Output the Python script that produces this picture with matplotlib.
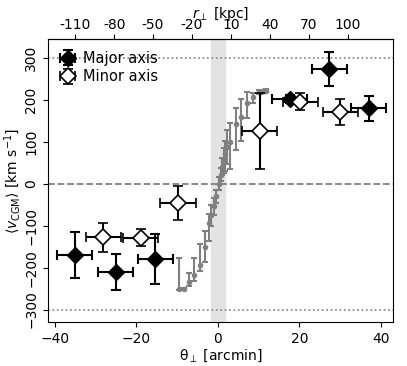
import matplotlib
matplotlib.use("Agg")
import matplotlib.pyplot as plt
import numpy as np

plt.rcParams.update({"font.family": "DejaVu Sans", "font.size": 10})

# major axis sightlines
maj_theta = [-35.2, -25.1, -15.4, 17.6, 27.3, 37.0]
maj_v     = [-171, -211, -179, 202, 274, 180]
maj_verr  = [55, 43, 59, 10, 40, 30]
# minor axis sightlines
min_theta = [-28.2, -18.9, -9.8, 10.2, 20.2, 30.0]
min_v     = [-128, -129, -46, 126, 196, 172]
min_verr  = [34, 20, 40, 91, 21, 31]
theta_err = 4.3

# disc rotation curve (gray)
rc_theta = [-9.5, -8.4, -7.0, -5.8, -4.5, -3.1, -2.1, -1.6, -1.0, -0.5, 0.3,
            0.8, 1.1, 1.5, 1.8, 2.3, 3.0, 4.4, 5.6, 7.1, 8.5, 10.0, 10.6,
            11.2, 11.8]
rc_v      = [-251, -251, -234, -217, -195, -150, -94, -75, -54, -30, 0,
             22, 39, 55, 71, 88, 100, 142, 160, 192, 207, 218, 220, 221, 222]
rc_lo     = [3, 3, 10, 15, 14, 36, 42, 25, 20, 15, 15, 15, 18, 30, 40, 40,
             64, 62, 57, 36, 15, 5, 3, 3, 3]
rc_hi     = [74, 3, 21, 41, 52, 37, 22, 25, 20, 15, 15, 15, 22, 30, 30, 40,
             46, 38, 42, 28, 9, 5, 3, 3, 3]

KPC_PER_ARCMIN = 3.14
r_ticks = list(range(-110, 101, 30))

fig, ax = plt.subplots(figsize=(4.07, 3.66), dpi=100)
fig.subplots_adjust(left=0.118, right=0.966, top=0.893, bottom=0.120)

ax.axvspan(-1.7, 1.8, color="#e3e3e3", zorder=0)
ax.axhline(0, color="gray", ls="--", lw=1.3, zorder=1)
ax.axhline(300, color="gray", ls=":", lw=1.2, zorder=1)
ax.axhline(-300, color="gray", ls=":", lw=1.2, zorder=1)

ax.errorbar(rc_theta, rc_v, yerr=[rc_lo, rc_hi], fmt="o", color="gray",
            ms=3, elinewidth=1.5, capsize=2.5, capthick=1.5, zorder=2)

h1 = ax.errorbar(maj_theta, maj_v, xerr=theta_err, yerr=maj_verr, fmt="D",
                 color="black", mfc="black", mec="black", ms=8,
                 elinewidth=1.5, capsize=3.5, capthick=1.5, zorder=3,
                 label="Major axis")
h2 = ax.errorbar(min_theta, min_v, xerr=theta_err, yerr=min_verr, fmt="D",
                 color="black", mfc="white", mec="black", ms=8, mew=1.2,
                 elinewidth=1.5, capsize=3.5, capthick=1.5, zorder=3,
                 label="Minor axis")

ax.set_xlim(-41.7, 43)
ax.set_ylim(-330, 345)
ax.set_xticks([-40, -20, 0, 20, 40])
ax.set_yticks([-300, -200, -100, 0, 100, 200, 300])
ax.set_xlabel(r"$\mathrm{\theta_\perp}$ [arcmin]", labelpad=1)
ax.set_ylabel(r"$\langle v_{\rm CGM}\rangle$ [km s$^{-1}$]", labelpad=1)
ax.yaxis.set_tick_params(labelrotation=90)
for lab in ax.get_yticklabels():
    lab.set_va("center")

top = ax.secondary_xaxis("top", functions=(lambda t: t * KPC_PER_ARCMIN,
                                           lambda r: r / KPC_PER_ARCMIN))
top.set_xticks(r_ticks)
top.set_xticklabels([str(t) for t in r_ticks])
top.tick_params(axis="x", pad=1.5)
top.set_xlabel(r"$r_\perp$ [kpc]", labelpad=0)

ax.legend(handles=[h1, h2], loc="upper left", frameon=False,
          handletextpad=0.5, borderaxespad=0.4, fontsize=10.5,
          handlelength=1.1, labelspacing=0.25)

fig.savefig("out.png", dpi=100)
